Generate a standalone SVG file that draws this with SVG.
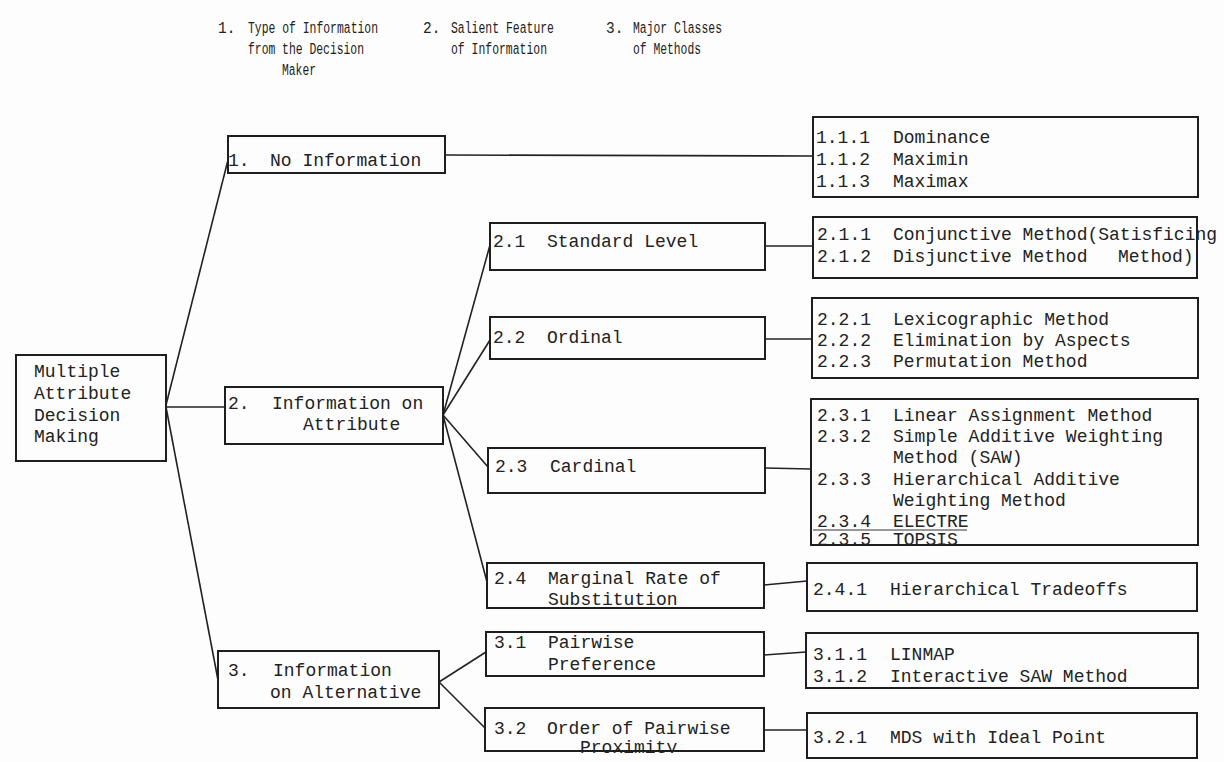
<svg xmlns="http://www.w3.org/2000/svg" width="1224" height="762" viewBox="0 0 1224 762">
<style>
.bg{fill:#fdfdfd}
.box{fill:#fdfdfd;stroke:#1e1e1e;stroke-width:2}
.cn{fill:none;stroke:#222;stroke-width:1.6}
.t{font-family:"Liberation Mono","DejaVu Sans Mono",monospace;font-size:18px;fill:#222}
.h{font-family:"Liberation Mono","DejaVu Sans Mono",monospace;font-size:14.5px;fill:#222}
</style>
<defs>
<clipPath id="clipTop"><rect x="800" y="380" width="424" height="166"/></clipPath>
<clipPath id="clipProx"><rect x="480" y="700" width="300" height="53"/></clipPath>
</defs>
<rect class="bg" x="0" y="0" width="1224" height="762"/>

<g id="header" transform="scale(1,1.2)">
<text class="h" x="218" y="27.5">1.</text>
<text class="h" x="248" y="27.5" textLength="130" lengthAdjust="spacingAndGlyphs">Type of Information</text>
<text class="h" x="248" y="45" textLength="116" lengthAdjust="spacingAndGlyphs">from the Decision</text>
<text class="h" x="282" y="62.5" textLength="34" lengthAdjust="spacingAndGlyphs">Maker</text>
<text class="h" x="423" y="27.5">2.</text>
<text class="h" x="451" y="27.5" textLength="103" lengthAdjust="spacingAndGlyphs">Salient Feature</text>
<text class="h" x="451" y="45" textLength="96" lengthAdjust="spacingAndGlyphs">of Information</text>
<text class="h" x="606" y="27.5">3.</text>
<text class="h" x="633" y="27.5" textLength="89" lengthAdjust="spacingAndGlyphs">Major Classes</text>
<text class="h" x="633" y="45" textLength="68" lengthAdjust="spacingAndGlyphs">of Methods</text>
</g>

<g id="connectors">
<path class="cn" d="M166 405 L228 160"/>
<path class="cn" d="M166 407 L225 407"/>
<path class="cn" d="M166 407 L218 680"/>
<path class="cn" d="M445 155 L813 156"/>
<path class="cn" d="M443 415 L490 245"/>
<path class="cn" d="M443 415 L490 340"/>
<path class="cn" d="M443 415 L488 467"/>
<path class="cn" d="M443 415 L487 582"/>
<path class="cn" d="M439 682 L486 652"/>
<path class="cn" d="M439 682 L485 728"/>
<path class="cn" d="M765 246 L813 246"/>
<path class="cn" d="M765 339 L812 339"/>
<path class="cn" d="M765 468 L811 469"/>
<path class="cn" d="M764 585 L807 581"/>
<path class="cn" d="M764 655 L806 652"/>
<path class="cn" d="M764 730 L807 730"/>
</g>

<g id="root">
<rect class="box" x="16" y="355" width="150" height="106"/>
<text class="t" x="34" y="377">Multiple</text>
<text class="t" x="34" y="399">Attribute</text>
<text class="t" x="34" y="421">Decision</text>
<text class="t" x="34" y="442">Making</text>
</g>

<g id="n1">
<rect class="box" x="228" y="136" width="217" height="37"/>
<text class="t" x="228" y="166">1.</text>
<text class="t" x="270" y="166">No Information</text>
</g>

<g id="n2">
<rect class="box" x="225" y="387" width="218" height="57"/>
<text class="t" x="228" y="409">2.</text>
<text class="t" x="272" y="409">Information on</text>
<text class="t" x="303" y="430">Attribute</text>
</g>

<g id="n3">
<rect class="box" x="218" y="651" width="221" height="57"/>
<text class="t" x="228" y="676">3.</text>
<text class="t" x="273" y="676">Information</text>
<text class="t" x="270" y="698">on Alternative</text>
</g>

<g id="n21">
<rect class="box" x="490" y="223" width="275" height="47"/>
<text class="t" x="493" y="247">2.1</text>
<text class="t" x="547" y="247">Standard Level</text>
</g>

<g id="n22">
<rect class="box" x="490" y="317" width="275" height="42"/>
<text class="t" x="493" y="343">2.2</text>
<text class="t" x="547" y="343">Ordinal</text>
</g>

<g id="n23">
<rect class="box" x="488" y="448" width="277" height="45"/>
<text class="t" x="495" y="472">2.3</text>
<text class="t" x="550" y="472">Cardinal</text>
</g>

<g id="n24">
<rect class="box" x="487" y="563" width="277" height="45"/>
<text class="t" x="494" y="584">2.4</text>
<text class="t" x="548" y="584">Marginal Rate of</text>
<text class="t" x="548" y="605">Substitution</text>
</g>

<g id="n31">
<rect class="box" x="486" y="632" width="278" height="44"/>
<text class="t" x="494" y="648">3.1</text>
<text class="t" x="548" y="648">Pairwise</text>
<text class="t" x="548" y="670">Preference</text>
</g>

<g id="n32">
<rect class="box" x="485" y="708" width="279" height="43"/>
<text class="t" x="494" y="734">3.2</text>
<text class="t" x="547" y="734">Order of Pairwise</text>
<text class="t" x="580" y="753" clip-path="url(#clipProx)">Proximity</text>
</g>

<g id="m11">
<rect class="box" x="813" y="117" width="385" height="80"/>
<text class="t" x="816" y="143">1.1.1</text>
<text class="t" x="893" y="143">Dominance</text>
<text class="t" x="816" y="165">1.1.2</text>
<text class="t" x="893" y="165">Maximin</text>
<text class="t" x="816" y="187">1.1.3</text>
<text class="t" x="893" y="187">Maximax</text>
</g>

<g id="m21">
<rect class="box" x="813" y="217" width="384" height="61"/>
<text class="t" x="817" y="240">2.1.1</text>
<text class="t" x="893" y="240">Conjunctive Method(Satisficing</text>
<text class="t" x="817" y="262">2.1.2</text>
<text class="t" x="893" y="262">Disjunctive Method</text>
<text class="t" x="1118" y="262">Method)</text>
</g>

<g id="m22">
<rect class="box" x="812" y="298" width="386" height="80"/>
<text class="t" x="817" y="325">2.2.1</text>
<text class="t" x="893" y="325">Lexicographic Method</text>
<text class="t" x="817" y="346">2.2.2</text>
<text class="t" x="893" y="346">Elimination by Aspects</text>
<text class="t" x="817" y="367">2.2.3</text>
<text class="t" x="893" y="367">Permutation Method</text>
</g>

<g id="m23">
<rect class="box" x="811" y="399" width="387" height="146"/>
<text class="t" x="817" y="421">2.3.1</text>
<text class="t" x="893" y="421">Linear Assignment Method</text>
<text class="t" x="817" y="442">2.3.2</text>
<text class="t" x="893" y="442">Simple Additive Weighting</text>
<text class="t" x="893" y="463">Method (SAW)</text>
<text class="t" x="817" y="485">2.3.3</text>
<text class="t" x="893" y="485">Hierarchical Additive</text>
<text class="t" x="893" y="506">Weighting Method</text>
<text class="t" x="817" y="527">2.3.4</text>
<text class="t" x="893" y="527">ELECTRE</text>
<line x1="813" y1="530" x2="967" y2="530" stroke="#333" stroke-width="1"/>
<text class="t" x="817" y="545" clip-path="url(#clipTop)">2.3.5</text>
<text class="t" x="893" y="545" clip-path="url(#clipTop)">TOPSIS</text>
</g>

<g id="m24">
<rect class="box" x="807" y="563" width="390" height="48"/>
<text class="t" x="813" y="595">2.4.1</text>
<text class="t" x="890" y="595">Hierarchical Tradeoffs</text>
</g>

<g id="m31">
<rect class="box" x="806" y="633" width="392" height="55"/>
<text class="t" x="813" y="660">3.1.1</text>
<text class="t" x="890" y="660">LINMAP</text>
<text class="t" x="813" y="682">3.1.2</text>
<text class="t" x="890" y="682">Interactive SAW Method</text>
</g>

<g id="m32">
<rect class="box" x="807" y="713" width="390" height="45"/>
<text class="t" x="813" y="743">3.2.1</text>
<text class="t" x="890" y="743">MDS with Ideal Point</text>
</g>
</svg>
